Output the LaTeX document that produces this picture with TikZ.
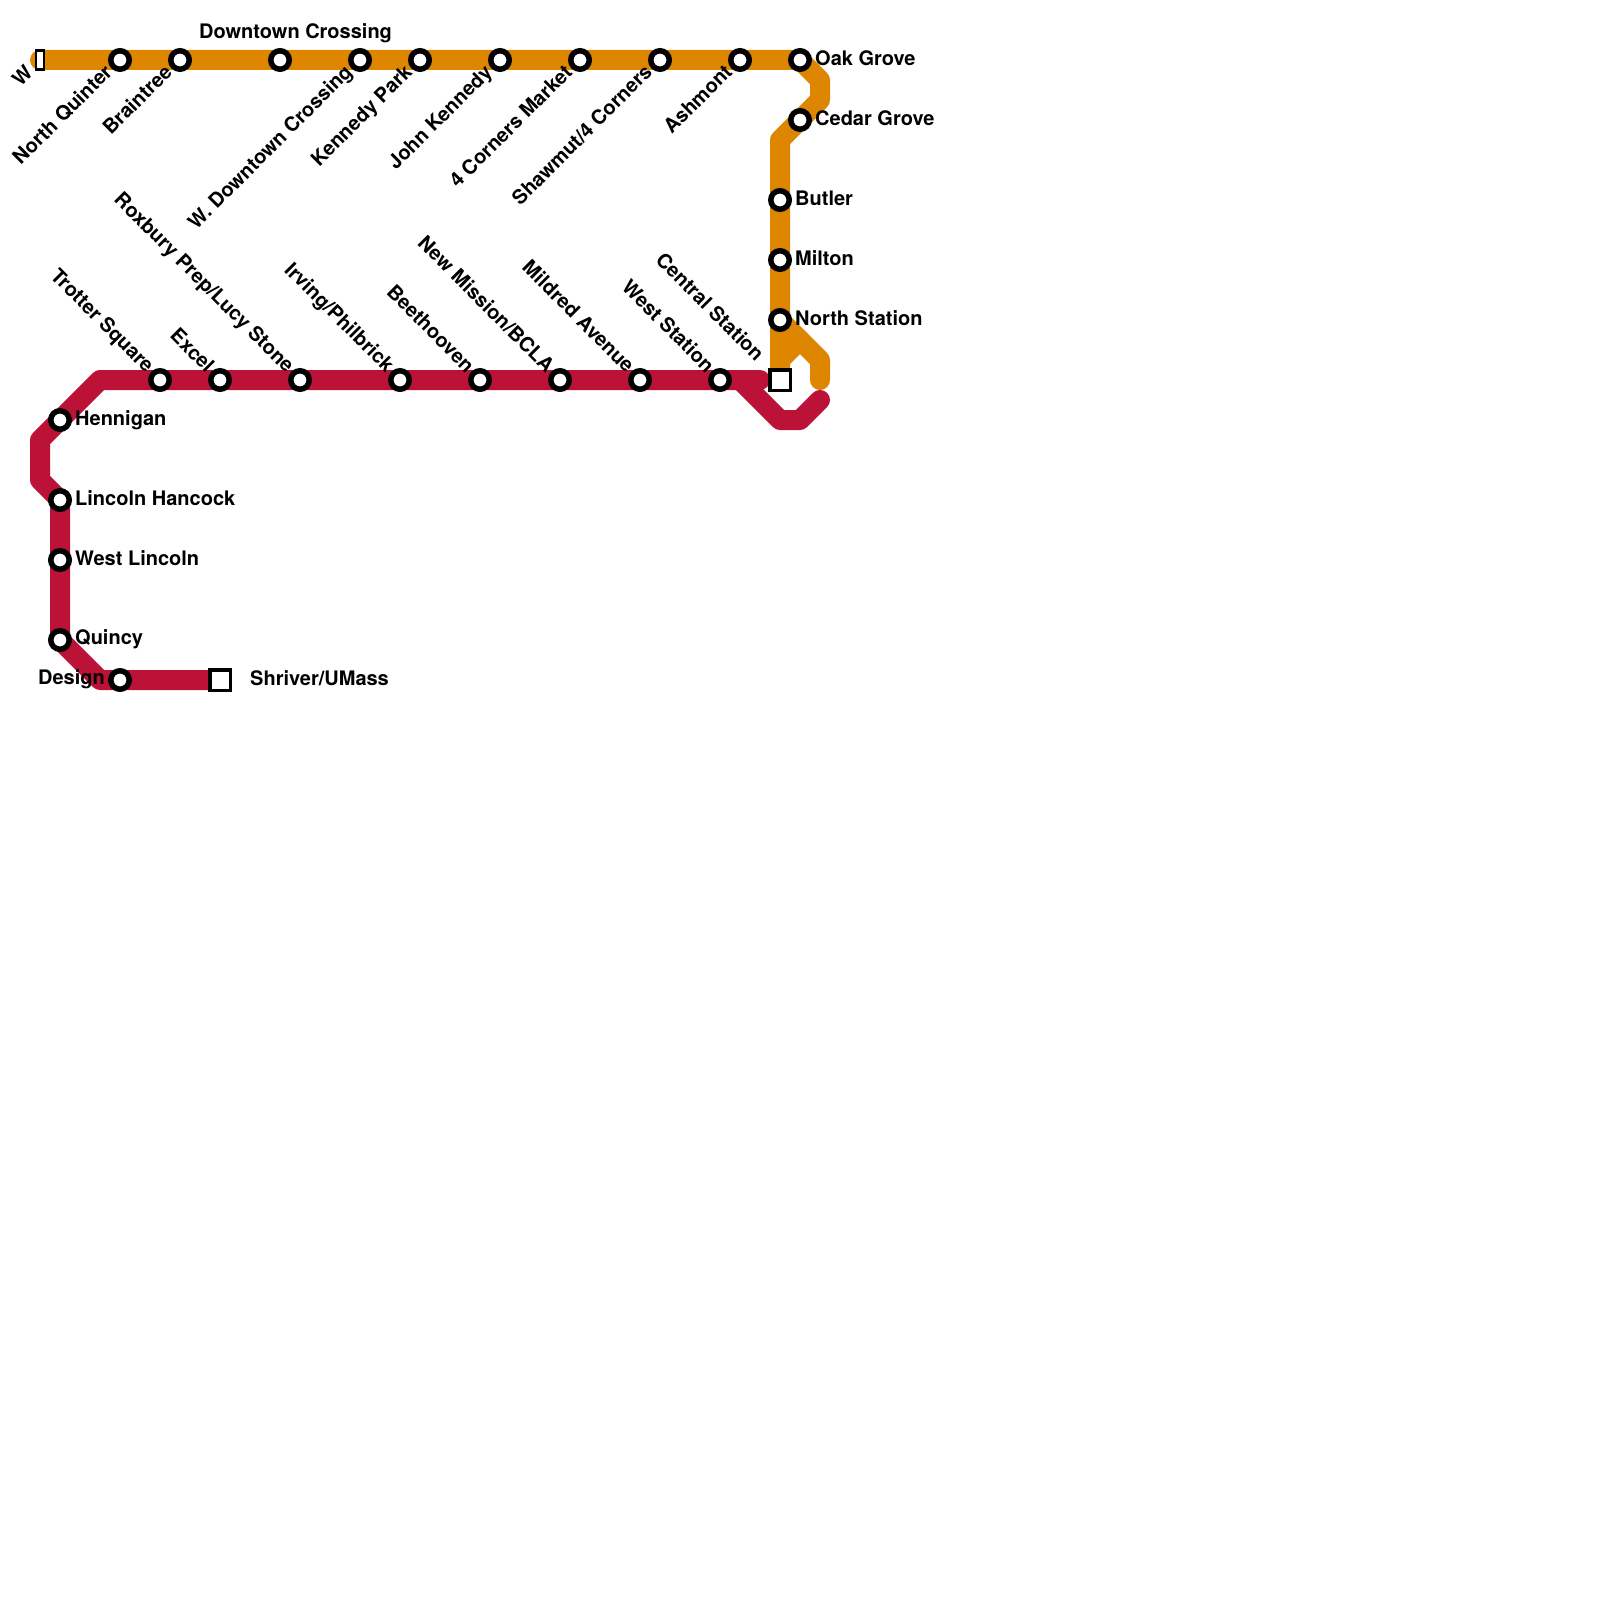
\documentclass[tikz,border=0pt]{standalone}
\usepackage{fontspec}
\setmainfont{TeX Gyre Heros}
\usetikzlibrary{backgrounds}
\definecolor{orangecol}{HTML}{DF8600}
\definecolor{redcol}{HTML}{BC1238}

\begin{document}
\begin{tikzpicture}[
        x=20pt,
        y=-20pt,
        stopdot/.style={
            circle,
            draw=black,
            fill=white,
            line width=5.5pt,
            inner sep=0pt,
            minimum size=18.5pt
        },
        stopend/.style={
            rectangle,
            draw=black,
            fill=white,
            line width=3.5pt,
            inner sep=0pt,
            minimum size=20.5pt
        },
        stopnarrow/.style={
            stopend,
            minimum width=8pt,
            minimum height=19pt,
            line width=2.5pt
        },
        textbase/.style={
            inner sep=0pt,
            font=\fontsize{20}{24}\selectfont\bfseries
        },
        lbleast/.style={textbase, anchor=base west},
        lblwest/.style={textbase, anchor=base east},
        lbldown/.style={textbase, anchor=base east, rotate=45},
        lblup/.style={textbase, anchor=base east, rotate=-45},
        orangeline/.style={draw=orangecol, line width=20pt, line cap=round, line join=round},
        redline/.style={draw=redcol, line width=20pt, line cap=round, line join=round}
    ]
        \useasboundingbox (0,0) rectangle (80,80);

        % Orange stops
        \node[stopnarrow] (wend) at (2,3) {};
        \node[stopdot] (quinter) at (6,3) {};
        \node[stopdot] (braintree) at (9,3) {};
        \node[stopdot] (downtown) at (14,3) {};
        \node[stopdot] (wdowntown) at (18,3) {};
        \node[stopdot] (kennedy) at (21,3) {};
        \node[stopdot] (john) at (25,3) {};
        \node[stopdot] (corners) at (29,3) {};
        \node[stopdot] (shawmut) at (33,3) {};
        \node[stopdot] (ashmont) at (37,3) {};
        \node[stopdot] (oak) at (40,3) {};
        \node[stopdot] (cedar) at (40,6) {};
        \node[stopdot] (butler) at (39,10) {};
        \node[stopdot] (milton) at (39,13) {};
        \node[stopdot] (north) at (39,16) {};

        % Red stops
        \node[stopend] (central) at (39,19) {};
        \node[stopdot] (west) at (36,19) {};
        \node[stopdot] (mildred) at (32,19) {};
        \node[stopdot] (mission) at (28,19) {};
        \node[stopdot] (beethooven) at (24,19) {};
        \node[stopdot] (irving) at (20,19) {};
        \node[stopdot] (roxbury) at (15,19) {};
        \node[stopdot] (excel) at (11,19) {};
        \node[stopdot] (trotter) at (8,19) {};
        \node[stopdot] (hennigan) at (3,21) {};
        \node[stopdot] (lincoln) at (3,25) {};
        \node[stopdot] (westlincoln) at (3,28) {};
        \node[stopdot] (quincy) at (3,32) {};
        \node[stopdot] (design) at (6,34) {};
        \node[stopend] (shriver) at (11,34) {};

        % Bends
        \coordinate (obend1) at (41,4);
        \coordinate (obend2) at (41,5);
        \coordinate (obend3) at (39,7);
        \coordinate (obend4) at (39,18);
        \coordinate (obend5) at (40,17);
        \coordinate (obend6) at (41,18);
        \coordinate (oend) at (41,19);
        \coordinate (rstub) at (38,19);
        \coordinate (rbend1) at (37,19);
        \coordinate (rbend2) at (39,21);
        \coordinate (rbend3) at (40,21);
        \coordinate (rend) at (41,20);
        \coordinate (rbend4) at (5,19);
        \coordinate (rbend5) at (2,22);
        \coordinate (rbend6) at (2,24);
        \coordinate (rbend7) at (5,34);

        % Lines
        \begin{scope}[on background layer]
            \draw[orangeline] (wend.center) -- (oak.center) -- (obend1) -- (obend2) -- (obend3) -- (central.center);
            \draw[orangeline] (north.center) -- (obend6) -- (oend);
            \draw[orangeline] (obend4) -- (obend5);
            \draw[redline] (rstub) -- (rbend4) -- (rbend5) -- (rbend6) -- (lincoln.center) -- (quincy.center) -- (rbend7) -- (shriver.center);
            \draw[redline] (rbend1) -- (rbend2) -- (rbend3) -- (rend);
        \end{scope}

        % Labels
        \node[lbldown] (lblw) at (1.7,3.72) {W};
        \node[lbldown] (lblquinter) at (5.67,3.67) {North Quinter};
        \node[lbldown] (lblbraintree) at (8.67,3.67) {Braintree};
        \node[lbleast] (lbldowntown) at (9.95,1.95) {Downtown Crossing};
        \node[lbldown] (lblwdowntown) at (17.67,3.67) {W. Downtown Crossing};
        \node[lbldown] (lblkennedy) at (20.67,3.67) {Kennedy Park};
        \node[lbldown] (lbljohn) at (24.67,3.67) {John Kennedy};
        \node[lbldown] (lblcorners) at (28.67,3.67) {4 Corners Market};
        \node[lbldown] (lblshawmut) at (32.67,3.67) {Shawmut/4 Corners};
        \node[lbldown] (lblashmont) at (36.67,3.67) {Ashmont};
        \node[lbleast] (lbloak) at (40.75,3.26) {Oak Grove};
        \node[lbleast] (lblcedar) at (40.75,6.26) {Cedar Grove};
        \node[lbleast] (lblbutler) at (39.75,10.26) {Butler};
        \node[lbleast] (lblmilton) at (39.75,13.26) {Milton};
        \node[lbleast] (lblnorth) at (39.75,16.26) {North Station};
        \node[lblup] (lblcentral) at (37.78,18.12) {Central Station};
        \node[lblup] (lblwest) at (35.3,18.69) {West Station};
        \node[lblup] (lblmildred) at (31.3,18.69) {Mildred Avenue};
        \node[lblup] (lblmission) at (27.3,18.69) {New Mission/BCLA};
        \node[lblup] (lblbeethooven) at (23.3,18.69) {Beethooven};
        \node[lblup] (lblirving) at (19.3,18.69) {Irving/Philbrick};
        \node[lblup] (lblroxbury) at (14.3,18.69) {Roxbury Prep/Lucy Stone};
        \node[lblup] (lblexcel) at (10.3,18.69) {Excel};
        \node[lblup] (lbltrotter) at (7.3,18.69) {Trotter Square};
        \node[lbleast] (lblhennigan) at (3.75,21.26) {Hennigan};
        \node[lbleast] (lbllincoln) at (3.75,25.26) {Lincoln Hancock};
        \node[lbleast] (lblwestlincoln) at (3.75,28.26) {West Lincoln};
        \node[lbleast] (lblquincy) at (3.75,32.22) {Quincy};
        \node[lblwest] (lbldesign) at (5.25,34.22) {Design};
        \node[lbleast] (lblshriver) at (12.5,34.26) {Shriver/UMass};

\end{tikzpicture}
\end{document}
